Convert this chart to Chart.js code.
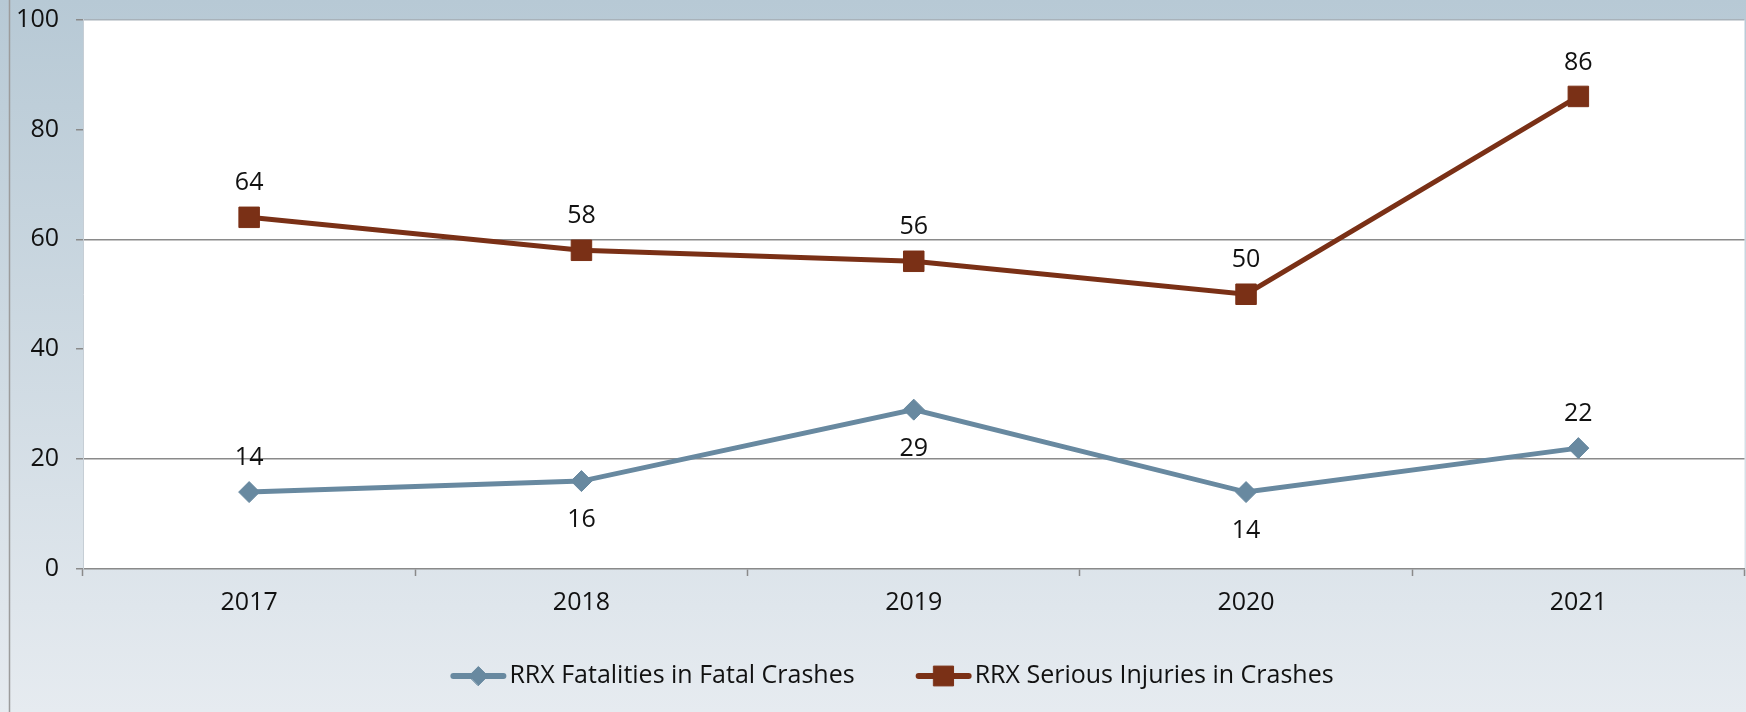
<!DOCTYPE html>
<html>
<head>
<meta charset="utf-8">
<script src="https://cdn.jsdelivr.net/npm/chart.js@4.4.1/dist/chart.umd.min.js"></script>
<style>
  html, body { margin: 0; padding: 0; overflow: hidden; background: #e0e6eb; }
  #wrap { width: 1760px; height: 712px; position: relative; }
</style>
</head>
<body>
<div id="wrap"><canvas id="c" width="1760" height="712"></canvas></div>
<script>
// ---- data ----
const years = ['2017', '2018', '2019', '2020', '2021'];
const fatalities = [14, 16, 29, 14, 22];
const seriousInjuries = [64, 58, 56, 50, 86];
const seriesNames = ['RRX Fatalities in Fatal Crashes', 'RRX Serious Injuries in Crashes'];
const yTicks = [0, 20, 40, 60, 80, 100];

// ---- styles ----
const FONT = '"Open Sans", "Liberation Sans", Arial, sans-serif';
const FSIZE = 25;
const BLUE = '#6889a0';
const RUST = '#7a3016';
const TEXT = '#111111';
const fatalLabelSide = ['above', 'below', 'below', 'below', 'above'];
const injuryLabelSide = ['above', 'above', 'above', 'above', 'above'];

const bgPlugin = {
  id: 'bg',
  beforeDraw(chart) {
    const {ctx, width, height, chartArea} = chart;
    ctx.save();
    const g = ctx.createLinearGradient(0, 0, 0, height);
    g.addColorStop(0, '#b7c9d5');
    g.addColorStop(1, '#e6ebf0');
    ctx.fillStyle = g;
    ctx.fillRect(0, 0, width, height);
    ctx.fillStyle = '#ffffff';
    ctx.fillRect(chartArea.left, chartArea.top, chartArea.right - chartArea.left, chartArea.bottom - chartArea.top);
    ctx.strokeStyle = '#9c9c9c';
    ctx.lineWidth = 1.5;
    ctx.beginPath();
    ctx.moveTo(9.5, 0);
    ctx.lineTo(9.5, height);
    ctx.stroke();
    ctx.restore();
  }
};

const labelPlugin = {
  id: 'valueLabels',
  afterDatasetsDraw(chart) {
    const {ctx} = chart;
    const sides = [fatalLabelSide, injuryLabelSide];
    ctx.save();
    ctx.font = FSIZE + 'px ' + FONT;
    ctx.fillStyle = TEXT;
    ctx.textAlign = 'center';
    ctx.textBaseline = 'middle';
    chart.data.datasets.forEach((ds, di) => {
      const meta = chart.getDatasetMeta(di);
      meta.data.forEach((pt, i) => {
        const dy = sides[di][i] === 'above' ? -34 : 39;
        ctx.fillText(String(ds.data[i]), pt.x, pt.y + dy);
      });
    });
    ctx.restore();
  }
};

const legendPlugin = {
  id: 'lineLegend',
  afterDraw(chart) {
    const {ctx} = chart;
    ctx.save();
    ctx.font = FSIZE + 'px ' + FONT;
    const markW = 56, gapText = 3, gapItem = 61;
    const widths = chart.data.datasets.map(ds => ctx.measureText(ds.label).width);
    const total = widths.reduce((a, w) => a + markW + gapText + w, 0) + gapItem * (widths.length - 1);
    let x = 892 - total / 2;
    const y = 676;
    chart.data.datasets.forEach((ds, i) => {
      ctx.strokeStyle = ds.borderColor;
      ctx.lineWidth = 6;
      ctx.lineCap = 'round';
      ctx.beginPath();
      ctx.moveTo(x + 3, y);
      ctx.lineTo(x + markW - 3, y);
      ctx.stroke();
      ctx.fillStyle = ds.pointBackgroundColor;
      ctx.strokeStyle = ds.pointBorderColor;
      ctx.lineWidth = 1;
      Chart.helpers.drawPoint(ctx, {pointStyle: ds.pointStyle, radius: ds.legendRadius, borderWidth: 1}, x + markW / 2, y);
      ctx.fillStyle = TEXT;
      ctx.textAlign = 'left';
      ctx.textBaseline = 'middle';
      ctx.fillText(ds.label, x + markW + gapText, y);
      x += markW + gapText + widths[i] + gapItem;
    });
    ctx.restore();
  }
};

new Chart(document.getElementById('c'), {
  type: 'line',
  data: {
    labels: years,
    datasets: [
      {
        label: seriesNames[0],
        data: fatalities,
        borderColor: BLUE,
        backgroundColor: BLUE,
        borderWidth: 5,
        pointStyle: 'rectRot',
        pointRadius: 10.5,
        pointBackgroundColor: BLUE,
        pointBorderColor: BLUE,
        pointBorderWidth: 1,
        legendRadius: 9.5,
        tension: 0
      },
      {
        label: seriesNames[1],
        data: seriousInjuries,
        borderColor: RUST,
        backgroundColor: RUST,
        borderWidth: 5,
        pointStyle: 'rect',
        pointRadius: 14.5,
        pointBackgroundColor: RUST,
        pointBorderColor: RUST,
        pointBorderWidth: 1,
        legendRadius: 14,
        tension: 0
      }
    ]
  },
  options: {
    responsive: false,
    animation: false,
    events: [],
    layout: { padding: { top: 19.5, right: 11, bottom: 0, left: 0 } },
    plugins: { legend: { display: false }, tooltip: { enabled: false } },
    scales: {
      x: {
        offset: true,
        grid: {
          display: true,
          offset: true,
          drawOnChartArea: false,
          drawTicks: true,
          tickLength: 7,
          tickColor: '#8a8a8a',
          tickWidth: 1.5
        },
        border: { display: true, color: '#8a8a8a', width: 1.5 },
        ticks: { font: { family: FONT, size: FSIZE }, color: TEXT, padding: 12, maxRotation: 0 },
        afterFit(scale) { scale.height = 143; scale.paddingLeft = 0; scale.paddingRight = 0; }
      },
      y: {
        min: 0,
        max: 100,
        afterBuildTicks(scale) { scale.ticks = yTicks.map(v => ({value: v})); },
        grid: {
          drawTicks: true,
          tickLength: 7,
          tickColor: '#8a8a8a',
          tickWidth: 1.5,
          lineWidth: 1.5,
          color(ctx) {
            const v = ctx.tick && ctx.tick.value;
            if (v === 20 || v === 60) return '#8a8a8a';
            if (v === 100) return '#a8b2ba';
            return 'rgba(0,0,0,0)';
          }
        },
        border: { display: true, color: '#c6ced5', width: 1 },
        ticks: { font: { family: FONT, size: FSIZE }, color: TEXT, padding: 17 },
        afterFit(scale) { scale.width = 83; scale.paddingTop = 0; scale.paddingBottom = 0; }
      }
    }
  },
  plugins: [bgPlugin, labelPlugin, legendPlugin]
});
</script>
</body>
</html>
